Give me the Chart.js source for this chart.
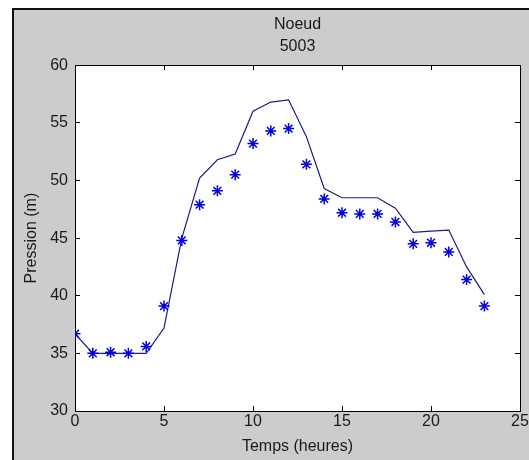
<!DOCTYPE html>
<html>
<head>
<meta charset="utf-8">
<script src="https://cdn.jsdelivr.net/npm/chart.js@4/dist/chart.umd.min.js"></script>
<style>
  html, body { margin: 0; padding: 0; background: #ffffff; }
  #wrap { position: relative; width: 529px; height: 460px; }
</style>
</head>
<body>
<div id="wrap"><canvas id="c" width="529" height="460"></canvas></div>
<script>
// ---- data ----
const hours = [0, 1, 2, 3, 4, 5, 6, 7, 8, 9, 10, 11, 12, 13, 14, 15, 16, 17, 18, 19, 20, 21, 22, 23];
const simulated = [36.7, 35.0, 35.0, 35.0, 35.0, 37.2, 45.0, 50.2, 51.8, 52.3, 56.0, 56.8, 57.0, 53.8, 49.3, 48.5, 48.5, 48.5, 47.6, 45.5, 45.6, 45.7, 42.5, 40.1];
const measured = [36.7, 35.0, 35.1, 35.0, 35.6, 39.1, 44.8, 47.9, 49.1, 50.5, 53.2, 54.3, 54.5, 51.4, 48.4, 47.2, 47.1, 47.1, 46.4, 44.5, 44.6, 43.8, 41.4, 39.1];
const titleLines = ['Noeud', '5003'];
const xTitle = 'Temps (heures)';
const yTitle = 'Pression (m)';
const xRange = [0, 25];
const yRange = [30, 60];
const tickStep = 5;

const FONT = 'Liberation Sans, Arial, Helvetica, sans-serif';
const TXT = '#1a1a1a';

const framePlugin = {
  id: 'frame',
  beforeDraw(chart) {
    const {ctx, chartArea: a, width, height} = chart;
    ctx.save();
    ctx.fillStyle = '#ffffff';
    ctx.fillRect(0, 0, width, height);
    ctx.fillStyle = '#cccccc';
    ctx.fillRect(13, 9, width - 13, height - 9);
    ctx.strokeStyle = '#111111';
    ctx.lineWidth = 2;
    ctx.beginPath();
    ctx.moveTo(13, height);
    ctx.lineTo(13, 9);
    ctx.lineTo(width, 9);
    ctx.stroke();
    ctx.fillStyle = '#ffffff';
    ctx.fillRect(a.left, a.top, a.right - a.left, a.bottom - a.top);
    ctx.restore();
  }
};

const pts = (ys) => hours.map((h, i) => ({x: h, y: ys[i]}));

const mirror = (pos) => ({
  type: 'linear',
  position: pos,
  min: pos === 'top' ? xRange[0] : yRange[0],
  max: pos === 'top' ? xRange[1] : yRange[1],
  ticks: { display: false, stepSize: tickStep },
  grid: { drawOnChartArea: false, drawTicks: true, tickLength: -5, color: '#000' },
  border: { display: true, color: '#000', width: 1 },
  afterFit(s) {
    if (pos === 'top') s.height = 0; else s.width = 0;
    s.paddingLeft = 0; s.paddingRight = 0; s.paddingTop = 0; s.paddingBottom = 0;
  }
});

new Chart(document.getElementById('c'), {
  type: 'scatter',
  data: {
    datasets: [
      {
        label: 'mesure',
        data: pts(measured),
        showLine: false,
        pointStyle: 'star',
        pointRadius: 5.5,
        pointBorderWidth: 1.5,
        borderColor: '#0000dd',
        backgroundColor: '#0000dd',
        xAxisID: 'x', yAxisID: 'y'
      },
      {
        label: 'simulation',
        data: pts(simulated),
        showLine: true,
        pointRadius: 0,
        borderWidth: 1.2,
        borderColor: '#1c1c88',
        backgroundColor: '#1c1c88',
        tension: 0,
        xAxisID: 'x', yAxisID: 'y'
      }
    ]
  },
  options: {
    responsive: false,
    animation: false,
    devicePixelRatio: 1,
    layout: { padding: { left: 0, right: 9, top: 0, bottom: 0 } },
    plugins: {
      legend: { display: false },
      tooltip: { enabled: false },
      title: {
        display: true,
        text: titleLines,
        fullSize: false,
        color: TXT,
        font: { family: FONT, size: 16, weight: 'normal', lineHeight: 1.35 },
        padding: { top: 14, bottom: 8 }
      }
    },
    scales: {
      x: {
        type: 'linear',
        position: 'bottom',
        min: xRange[0], max: xRange[1],
        ticks: { stepSize: tickStep, color: TXT, font: { family: FONT, size: 16 }, padding: 6, maxRotation: 0 },
        grid: { drawOnChartArea: false, drawTicks: true, tickLength: -5, color: '#000' },
        border: { display: true, color: '#000', width: 1 },
        title: { display: true, text: xTitle, color: TXT, font: { family: FONT, size: 16 }, padding: { top: 0, bottom: 4 } },
        afterFit(s) { s.height = 49; s.paddingLeft = 0; s.paddingRight = 0; }
      },
      y: {
        type: 'linear',
        position: 'left',
        min: yRange[0], max: yRange[1],
        ticks: { stepSize: tickStep, color: TXT, font: { family: FONT, size: 16 }, padding: 12 },
        grid: { drawOnChartArea: false, drawTicks: true, tickLength: -5, color: '#000' },
        border: { display: true, color: '#000', width: 1 },
        title: { display: true, text: yTitle, color: TXT, font: { family: FONT, size: 16 }, padding: { top: 22, bottom: 0 } },
        afterFit(s) { s.width = 75; s.paddingTop = 0; s.paddingBottom = 0; }
      },
      x2: mirror('top'),
      y2: mirror('right')
    }
  },
  plugins: [framePlugin]
});
</script>
</body>
</html>
